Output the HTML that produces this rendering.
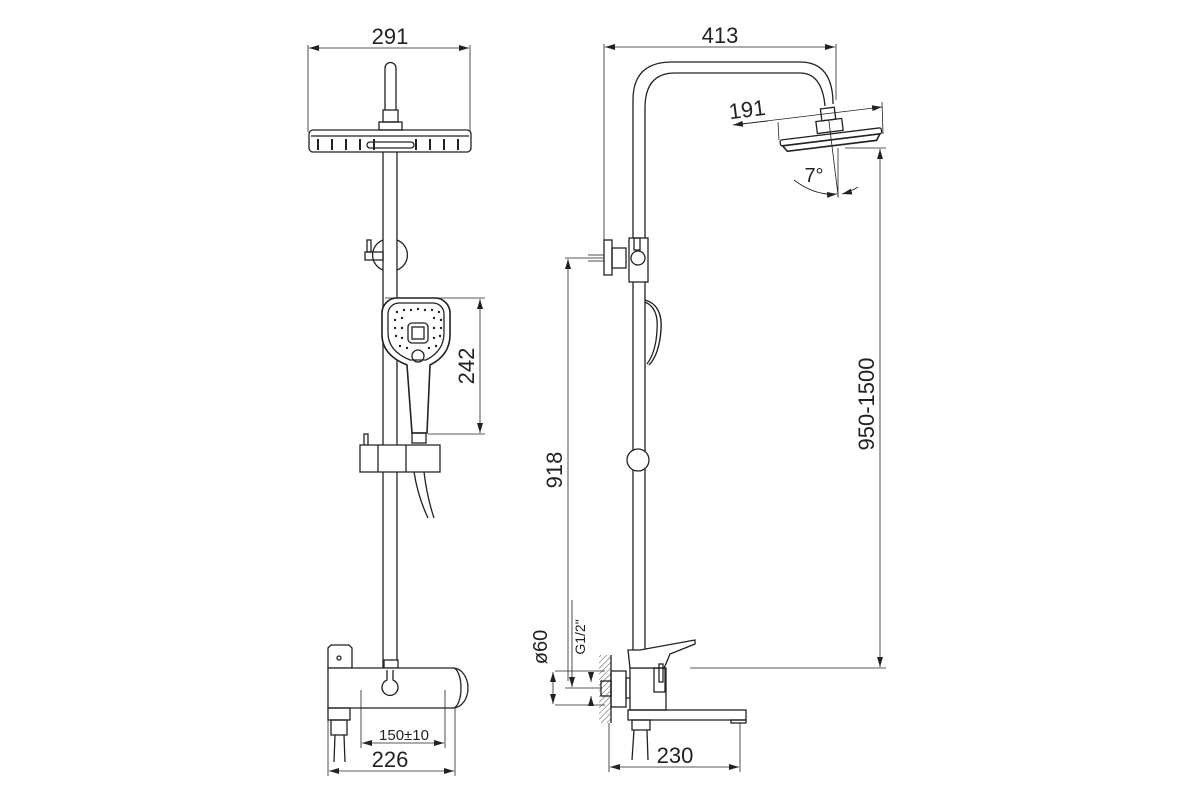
<!DOCTYPE html>
<html><head><meta charset="utf-8"><style>
html,body{margin:0;padding:0;background:#fff}
svg{display:block}
text{font-family:"Liberation Sans",sans-serif;fill:#222}
</style></head><body>
<svg width="1200" height="800" viewBox="0 0 1200 800" xmlns="http://www.w3.org/2000/svg">
<defs>
<marker id="a" viewBox="0 0 10 6" refX="10" refY="3" markerWidth="10" markerHeight="6" orient="auto-start-reverse" markerUnits="userSpaceOnUse"><path d="M0,0 L10,3 L0,6 z" fill="#222"/></marker>
<pattern id="h" width="4" height="4" patternUnits="userSpaceOnUse" patternTransform="rotate(45)"><line x1="0" y1="0" x2="0" y2="4" stroke="#555" stroke-width="1"/></pattern>
</defs>
<g fill="none" stroke="#222" stroke-width="1.3">
<!-- LEFT VIEW -->
<line x1="308" y1="45" x2="308" y2="132" stroke-width="0.8"/>
<line x1="470" y1="45" x2="470" y2="132" stroke-width="0.8"/>
<line x1="309" y1="48" x2="469" y2="48" stroke-width="0.8" marker-start="url(#a)" marker-end="url(#a)"/>
<path d="M385,110 V68 a5.5,5.5 0 0 1 11,0 V110"/>
<rect x="383" y="110" width="15" height="12"/>
<rect x="379" y="122" width="23" height="8"/>
<rect x="309" y="130" width="162" height="22" rx="4"/>
<line x1="311" y1="136" x2="469" y2="136"/>
<g stroke-width="2">
<line x1="318" y1="139" x2="318" y2="150"/><line x1="332" y1="139" x2="332" y2="150"/><line x1="346" y1="139" x2="346" y2="150"/><line x1="360" y1="139" x2="360" y2="150"/><line x1="374" y1="139" x2="374" y2="150"/>
<line x1="416" y1="139" x2="416" y2="150"/><line x1="430" y1="139" x2="430" y2="150"/><line x1="444" y1="139" x2="444" y2="150"/><line x1="458" y1="139" x2="458" y2="150"/>
</g>
<rect x="367" y="142" width="47" height="6" rx="3"/>
<line x1="383" y1="152" x2="383" y2="668"/><line x1="397" y1="152" x2="397" y2="668"/>
<path d="M397,240 a16,16 0 0 1 0,30"/><path d="M383,240 a16,16 0 0 0 0,30"/>
<rect x="367" y="240" width="4" height="12"/><rect x="365" y="252" width="18" height="8"/>
<!-- handshower -->
<path d="M398,298 H435 a15,15 0 0 1 15,15 V335 q0,20 -20,30 l-3,68 h-15 l-5,-68 q-25,-10 -25,-30 V313 a15,15 0 0 1 15,-15z" fill="#fff" stroke-width="1.6"/>
<path d="M400,303 H433 a11,11 0 0 1 11,11 V333 q0,18 -18,27 h-16 q-22,-9 -22,-27 V314 a11,11 0 0 1 11,-11z"/>
<rect x="408" y="323" width="20" height="20" rx="4"/><rect x="412" y="327" width="12" height="12"/>
<circle cx="418" cy="356" r="6"/>
<g fill="#222" stroke="none">
<circle cx="397" cy="312" r="1.2"/><circle cx="404" cy="310" r="1.2"/><circle cx="411" cy="310" r="1.2"/><circle cx="418" cy="309" r="1.2"/><circle cx="425" cy="310" r="1.2"/><circle cx="432" cy="310" r="1.2"/><circle cx="439" cy="312" r="1.2"/>
<circle cx="395" cy="320" r="1.2"/><circle cx="402" cy="318" r="1.2"/><circle cx="434" cy="318" r="1.2"/><circle cx="441" cy="320" r="1.2"/>
<circle cx="395" cy="328" r="1.2"/><circle cx="402" cy="328" r="1.2"/><circle cx="434" cy="328" r="1.2"/><circle cx="441" cy="328" r="1.2"/>
<circle cx="396" cy="336" r="1.2"/><circle cx="402" cy="338" r="1.2"/><circle cx="434" cy="338" r="1.2"/><circle cx="440" cy="336" r="1.2"/>
<circle cx="400" cy="346" r="1.2"/><circle cx="407" cy="348" r="1.2"/><circle cx="429" cy="348" r="1.2"/><circle cx="436" cy="346" r="1.2"/>
</g>
<rect x="412" y="433" width="14" height="10"/>
<rect x="364" y="434" width="4" height="11"/>
<path d="M360,445 H440 V472 H360z" fill="#fff"/>
<line x1="378" y1="445" x2="378" y2="472"/><line x1="406" y1="445" x2="406" y2="472"/>
<path d="M414,472 q4,25 14,46"/><path d="M424,472 q3,25 10,46"/>
<line x1="385" y1="298" x2="485" y2="298" stroke-width="0.8"/>
<line x1="428" y1="434" x2="485" y2="434" stroke-width="0.8"/>
<line x1="480" y1="299" x2="480" y2="433" stroke-width="0.8" marker-start="url(#a)" marker-end="url(#a)"/>
<!-- thermostat -->
<path d="M328,648 l3,-3 h18 l3,3 v20 h-24z"/>
<circle cx="339" cy="658" r="2"/>
<rect x="384" y="660" width="14" height="8" fill="#fff"/>
<path d="M328,668 H453 a15,20 0 0 1 0,40 H328z" fill="#fff"/>
<path d="M453,668 a8,20 0 0 1 0,40"/>
<path d="M387,670 v10 a8,8 0 1 0 6,0 v-10"/>
<rect x="328" y="708" width="22" height="12"/><rect x="331" y="720" width="16" height="15"/>
<line x1="335" y1="735" x2="334" y2="762"/><line x1="344" y1="735" x2="345" y2="762"/>
<line x1="361" y1="690" x2="361" y2="748" stroke-width="0.8"/>
<line x1="445" y1="690" x2="445" y2="748" stroke-width="0.8"/>
<line x1="362" y1="743" x2="444" y2="743" stroke-width="0.8" marker-start="url(#a)" marker-end="url(#a)"/>
<line x1="328" y1="720" x2="328" y2="776" stroke-width="0.8"/>
<line x1="455" y1="708" x2="455" y2="776" stroke-width="0.8"/>
<line x1="329" y1="771" x2="454" y2="771" stroke-width="0.8" marker-start="url(#a)" marker-end="url(#a)"/>

<!-- RIGHT VIEW -->
<line x1="604" y1="44" x2="604" y2="242" stroke-width="0.8"/>
<line x1="836" y1="44" x2="836" y2="100" stroke-width="0.8"/>
<line x1="605" y1="47" x2="835" y2="47" stroke-width="0.8" marker-start="url(#a)" marker-end="url(#a)"/>
<path d="M633,660 V100 Q633,62 672,62 H800 Q833,62 833,104"/>
<path d="M645,660 V108 Q645,73 675,73 H800 Q822,73 825,106"/>
<g transform="rotate(-7 830 138)">
<rect x="824" y="108" width="14" height="12"/>
<rect x="818" y="120" width="26" height="12"/>
<rect x="780" y="134" width="102" height="6" rx="2"/>
<path d="M782,140 h98 l-4,6 h-90z" stroke-width="1.6"/>
<line x1="831" y1="120" x2="831" y2="198" stroke-width="0.8"/>
</g>
<line x1="733" y1="125" x2="882" y2="107" stroke-width="0.8" marker-start="url(#a)" marker-end="url(#a)"/>
<line x1="778" y1="122" x2="779" y2="140" stroke-width="0.8"/>
<line x1="882" y1="102" x2="883" y2="134" stroke-width="0.8"/>
<line x1="733" y1="125" x2="768" y2="121" stroke-width="0.8"/>
<line x1="838" y1="148" x2="838" y2="197" stroke-width="0.8"/>
<path d="M794,180 Q815,196 837,194" stroke-width="0.8" marker-end="url(#a)"/>
<path d="M858,187 Q850,192 842,194" stroke-width="0.8" marker-end="url(#a)"/>
<line x1="845" y1="148" x2="886" y2="148" stroke-width="0.8"/>
<line x1="880" y1="149" x2="880" y2="667" stroke-width="0.8" marker-start="url(#a)" marker-end="url(#a)"/>
<line x1="690" y1="668" x2="886" y2="668" stroke-width="0.8"/>
<!-- wall bracket -->
<rect x="604" y="240" width="8" height="35"/>
<rect x="612" y="248" width="14" height="20"/>
<rect x="629" y="238" width="19" height="44" fill="#fff"/>
<circle cx="638" cy="258" r="7"/><rect x="634" y="238" width="6" height="12"/>
<line x1="565" y1="258" x2="604" y2="258" stroke-width="0.8"/>
<line x1="588" y1="255" x2="604" y2="255" stroke-width="0.8"/><line x1="588" y1="261" x2="604" y2="261" stroke-width="0.8"/>
<line x1="568" y1="259" x2="568" y2="681" stroke-width="0.8" marker-start="url(#a)"/>
<path d="M645,300 q18,5 16,30 q-2,25 -12,35" stroke-width="1.4"/>
<path d="M645,302 q14,6 12,28 q-1,22 -10,34"/>
<circle cx="638" cy="460" r="11" fill="#fff"/>
<!-- mixer -->
<rect x="599" y="655" width="12" height="68" fill="url(#h)" stroke="none"/>
<line x1="611" y1="655" x2="611" y2="723"/>
<rect x="611" y="671" width="15" height="36"/>
<rect x="601" y="681" width="10" height="15"/>
<rect x="626" y="678" width="4" height="20"/>
<rect x="630" y="668" width="36" height="42" fill="#fff"/>
<path d="M628,650 h12 l55,-10 v4 l-25,10 q-4,10 -6,14 h-34z" fill="#fff"/>
<rect x="654" y="668" width="11" height="24"/>
<rect x="659" y="664" width="4" height="18"/>
<rect x="628" y="710" width="118" height="10"/>
<rect x="731" y="720" width="15" height="3"/>
<rect x="632" y="720" width="18" height="10"/>
<line x1="634" y1="730" x2="632" y2="760"/><line x1="647" y1="730" x2="648" y2="760"/>
<line x1="555" y1="671" x2="605" y2="671" stroke-width="0.8"/>
<line x1="555" y1="705" x2="605" y2="705" stroke-width="0.8"/>
<line x1="553" y1="672" x2="553" y2="704" stroke-width="0.8" marker-start="url(#a)" marker-end="url(#a)"/>
<line x1="565" y1="688" x2="601" y2="688" stroke-width="0.8"/>
<line x1="591" y1="672" x2="591" y2="682" stroke-width="0.8" marker-end="url(#a)"/>
<line x1="591" y1="705" x2="591" y2="696" stroke-width="0.8" marker-end="url(#a)"/>
<line x1="572" y1="600" x2="572" y2="687" stroke-width="0.8" marker-end="url(#a)"/>
<line x1="609" y1="723" x2="609" y2="772" stroke-width="0.8"/>
<line x1="740" y1="723" x2="740" y2="772" stroke-width="0.8"/>
<line x1="610" y1="767" x2="739" y2="767" stroke-width="0.8" marker-start="url(#a)" marker-end="url(#a)"/>
</g>
<g>
<text x="390" y="44" font-size="22" text-anchor="middle">291</text>
<text x="720" y="43" font-size="22" text-anchor="middle">413</text>
<text x="748" y="117" font-size="22" text-anchor="middle" transform="rotate(-7 748 117)">191</text>
<text x="814" y="182" font-size="20" text-anchor="middle">7°</text>
<text x="404" y="740" font-size="15" text-anchor="middle">150±10</text>
<text x="390" y="767" font-size="22" text-anchor="middle">226</text>
<text x="675" y="763" font-size="22" text-anchor="middle">230</text>
<text transform="translate(474 366) rotate(-90)" font-size="22" text-anchor="middle">242</text>
<text transform="translate(874 404) rotate(-90)" font-size="22" text-anchor="middle">950-1500</text>
<text transform="translate(562 470) rotate(-90)" font-size="22" text-anchor="middle">918</text>
<text transform="translate(547 647) rotate(-90)" font-size="20" text-anchor="middle">ø60</text>
<text transform="translate(585 637) rotate(-90)" font-size="14" text-anchor="middle">G1/2"</text>
</g>
</svg>
</body></html>
